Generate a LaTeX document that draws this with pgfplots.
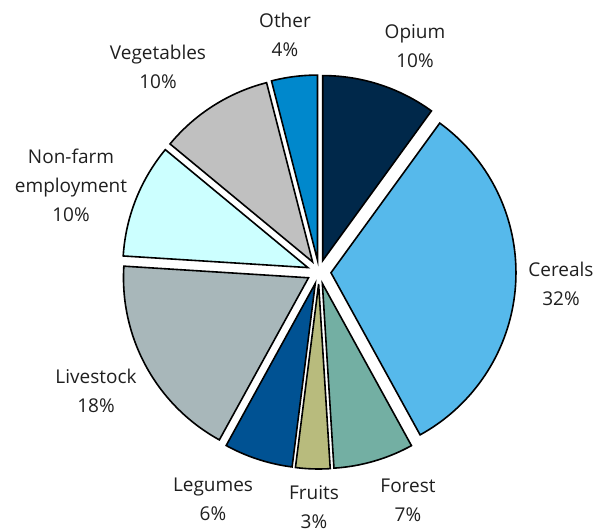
\documentclass[border=0pt]{standalone}
\usepackage{fontspec}
\setmainfont{Open Sans}
\usepackage{pgfplots}
\usepackage{pgfplotstable}
\pgfplotsset{compat=1.18}

\definecolor{cOpium}{HTML}{00284A}
\definecolor{cCereals}{HTML}{56B9EB}
\definecolor{cForest}{HTML}{73AFA3}
\definecolor{cFruits}{HTML}{B8BB7D}
\definecolor{cLegumes}{HTML}{005293}
\definecolor{cLivestock}{HTML}{A8B7BA}
\definecolor{cNonfarm}{HTML}{CCFFFF}
\definecolor{cVegetables}{HTML}{C0C0C0}
\definecolor{cOther}{HTML}{0088CC}

% share (%), fill colour, label position (px, y measured from bottom)
\pgfplotstableread[col sep=comma]{
label,value,color,lx,ly
Opium,10,cOpium,415,485.5
Cereals,32,cCereals,561,248
Forest,7,cForest,408,32
Fruits,3,cFruits,314,25
Legumes,6,cLegumes,213,33
Livestock,18,cLivestock,96,141
Non-farm employment,10,cNonfarm,71,347
Vegetables,10,cVegetables,158,465.5
Other,4,cOther,285,497.5
}\piedata

\begin{document}
\begin{tikzpicture}
\begin{axis}[
  scale only axis,
  width=595pt, height=532pt,
  xmin=0, xmax=595, ymin=0, ymax=532,
  hide axis, clip=false,
]
\coordinate (bl) at (rel axis cs:0,0);
\coordinate (tr) at (rel axis cs:1,1);
\xdef\curang{90}
\pgfplotsforeachungrouped \i in {0,...,8}{%
  \pgfplotstablegetelem{\i}{value}\of\piedata \let\v\pgfplotsretval
  \pgfplotstablegetelem{\i}{color}\of\piedata \let\c\pgfplotsretval
  \pgfmathsetmacro\sa{\curang}%
  \pgfmathsetmacro\ea{\curang - 3.6*\v}%
  \pgfmathsetmacro\ma{(\sa+\ea)/2}%
  \pgfmathsetmacro\ox{319 + 12*cos(\ma)}%
  \pgfmathsetmacro\oy{260 + 12*sin(\ma)}%
  \xdef\curang{\ea}%
  \edef\cmd{\noexpand\addplot[draw=black, line width=1.6pt, fill=\c, domain=\ea:\sa, samples=80]
    ({\ox + 185*cos(x)}, {\oy + 185*sin(x)}) -- (axis cs:\ox,\oy) -- cycle;}%
  \cmd
}
\addplot[only marks, mark=none,
  nodes near coords={\pgfplotspointmeta},
  point meta=explicit symbolic,
  nodes near coords style={anchor=center, align=center, text width=140pt,
    font=\fontsize{19}{29}\selectfont, text=black!88, inner sep=0pt},
] table[x=lx, y=ly, meta=label, col sep=comma] {
lx,ly,label
415,485.5,Opium\\10\%
561,248,Cereals\\32\%
408,32,Forest\\7\%
314,25,Fruits\\3\%
213,33,Legumes\\6\%
96,141,Livestock\\18\%
71,347,Non-farm\\employment\\10\%
158,465.5,Vegetables\\10\%
285,497.5,Other\\4\%
};
\end{axis}
\pgfresetboundingbox
\useasboundingbox (bl) rectangle (tr);
\end{tikzpicture}
\end{document}
